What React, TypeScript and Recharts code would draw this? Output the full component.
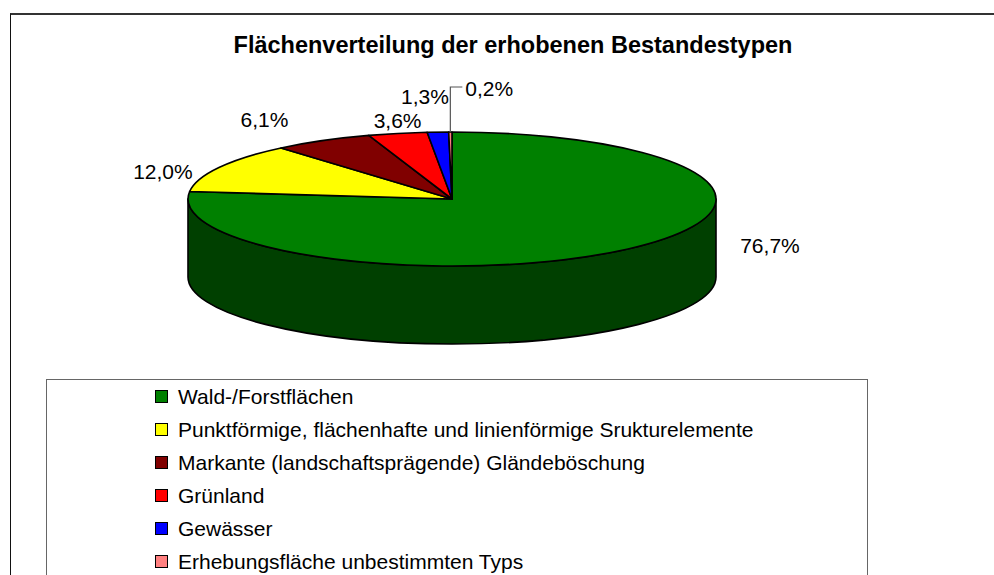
import React from 'react';
import { PieChart, Pie, Legend } from 'recharts';

// ---------- data ----------
const categories = [
  'Wald-/Forstflächen',
  'Punktförmige, flächenhafte und linienförmige Srukturelemente',
  'Markante (landschaftsprägende) Gländeböschung',
  'Grünland',
  'Gewässer',
  'Erhebungsfläche unbestimmten Typs',
];
const shares = [76.7, 12.0, 6.1, 3.6, 1.3, 0.2];
const shareLabels = ['76,7%', '12,0%', '6,1%', '3,6%', '1,3%', '0,2%'];
const title = 'Flächenverteilung der erhobenen Bestandestypen';

// ---------- style ----------
const TOP_COLORS = ['#008000', '#ffff00', '#800000', '#ff0000', '#0000ff', '#ff8080'];
const SIDE_COLORS = ['#004000', '#808000', '#400000', '#800000', '#000080', '#804040'];
const LABEL_NUDGE: number[][] = [[142, -3], [-56, 4], [-58, -21], [0, -13], [-13, -36], [0, 0]];
const FONT = '"Liberation Sans", Arial, sans-serif';
const RATIO = 67 / 264;
const DEPTH = 78;
const RAD = Math.PI / 180;

const data = categories.map((name, i) => ({ name, value: shares[i], text: shareLabels[i] }));

function ept(cx: number, cy: number, r: number, a: number, dy = 0) {
  const ry = r * RATIO;
  return [cx + r * Math.cos(a * RAD), cy - ry * Math.sin(a * RAD) + dy];
}

function Slice3D(props: any) {
  const { cx, cy, outerRadius, startAngle, endAngle, index } = props;
  const r = outerRadius;
  const ry = r * RATIO;
  const s = ept(cx, cy, r, startAngle);
  const e = ept(cx, cy, r, endAngle);
  const large = Math.abs(startAngle - endAngle) > 180 ? 1 : 0;
  const top = `M${cx},${cy} L${s[0]},${s[1]} A${r},${ry} 0 ${large} 1 ${e[0]},${e[1]} Z`;
  // front side (angles between -180 and 0)
  const a1 = Math.min(startAngle, 0);
  const a2 = Math.max(endAngle, -180);
  let side: string | null = null;
  if (a1 > a2) {
    const p1 = ept(cx, cy, r, a1);
    const p2 = ept(cx, cy, r, a2);
    const l2 = Math.abs(a1 - a2) > 180 ? 1 : 0;
    side = `M${p1[0]},${p1[1]} A${r},${ry} 0 ${l2} 1 ${p2[0]},${p2[1]} L${p2[0]},${p2[1] + DEPTH} A${r},${ry} 0 ${l2} 0 ${p1[0]},${p1[1] + DEPTH} Z`;
  }
  return (
    <g>
      {side && <path d={side} fill={SIDE_COLORS[index]} stroke="#000" strokeWidth={1.6} strokeLinejoin="round" />}
      <path d={top} fill={TOP_COLORS[index]} stroke="#000" strokeWidth={1.6} strokeLinejoin="round" />
    </g>
  );
}

function renderLabel(p: any) {
  const { cx, cy, midAngle, outerRadius, index, percent } = p;
  const b = ept(cx, cy, outerRadius, midAngle);
  if (percent < 0.005) {
    const x0 = b[0];
    const yTop = b[1] - 45;
    return (
      <g>
        <path d={`M${x0},${b[1]} L${x0},${yTop} L${x0 + 12},${yTop}`} fill="none" stroke="#555" strokeWidth={1.2} />
        <text x={x0 + 15} y={yTop + 1} fontSize={21} fontFamily={FONT} fill="#000" dominantBaseline="central" textAnchor="start">
          {data[index].text}
        </text>
      </g>
    );
  }
  const n = LABEL_NUDGE[index];
  return (
    <text x={b[0] + n[0]} y={b[1] + n[1]} fontSize={21} fontFamily={FONT} fill="#000" dominantBaseline="central" textAnchor="middle">
      {data[index].text}
    </text>
  );
}

function LegendBox() {
  return (
    <div style={{ width: 822, height: 230, border: '1px solid #666', boxSizing: 'border-box', paddingTop: 0 }}>
      {categories.map((c, i) => (
        <div key={c} style={{ display: 'flex', alignItems: 'center', height: 33, marginLeft: 108 }}>
          <span style={{ width: 11, height: 11, background: TOP_COLORS[i], border: '1.5px solid #000', display: 'inline-block', marginRight: 10 }} />
          <span style={{ fontSize: 21, fontFamily: FONT, color: '#000', whiteSpace: 'nowrap' }}>{c}</span>
        </div>
      ))}
    </div>
  );
}

export default function App() {
  return (
    <div style={{ position: 'absolute', left: 0, top: 0, width: 994, height: 575, overflow: 'hidden', background: '#fff' }}>
      <div style={{ position: 'absolute', left: 10, top: 13, width: 1100, height: 700, borderTop: '2px solid #333', borderLeft: '1.5px solid #111' }} />
      <div style={{ position: 'absolute', left: 163, top: 32, width: 700, textAlign: 'center', fontFamily: FONT, fontWeight: 'bold', fontSize: 23.5, color: '#000' }}>
        {title}
      </div>
      <div style={{ position: 'absolute', left: 0, top: 0 }}>
        <PieChart width={994} height={575} margin={{ top: 0, right: 0, bottom: 0, left: 0 }}>
          <Pie
            data={data}
            dataKey="value"
            nameKey="name"
            cx={452}
            cy={199}
            outerRadius={264}
            startAngle={90}
            endAngle={-270}
            stroke="none"
            labelLine={false}
            label={renderLabel}
            shape={Slice3D}
            isAnimationActive={false}
          />
          <Legend content={() => <LegendBox />} wrapperStyle={{ position: 'absolute', left: 46, top: 379, width: 822 }} />
        </PieChart>
      </div>
    </div>
  );
}
